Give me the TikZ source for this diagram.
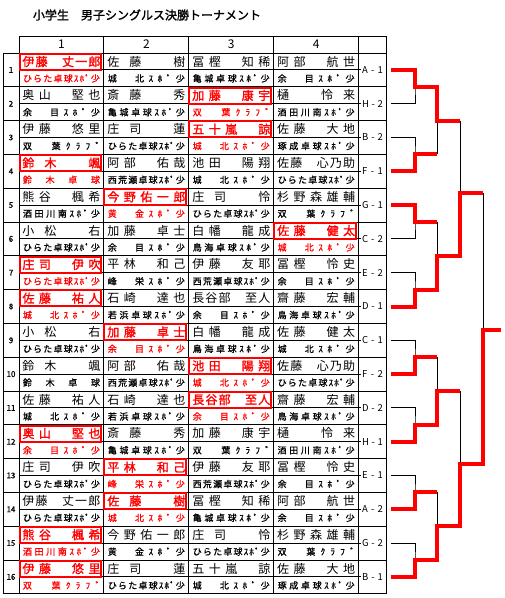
\documentclass[tikz,border=0pt]{standalone}
\usepackage{fontspec}
\usepackage{xcolor}
\newfontfamily\jp{Noto Sans CJK JP}
\newfontfamily\jpb[FakeBold=1.6]{Noto Sans CJK JP}
\newfontfamily\jpm[FakeBold=0.9]{Noto Sans CJK JP}
\definecolor{winRed}{RGB}{255,0,0}

% spread the letters of a text over a fixed width
\def\spreadA#1{\ifx#1\relax\else#1\expandafter\spreadB\fi}
\def\spreadB#1{\ifx#1\relax\else\hfill#1\expandafter\spreadB\fi}
\newcommand\spreadbox[2]{\hbox to #1{\expandafter\spreadA#2\relax}}

% one block row: #1 row, #2 winning column, #3 label, #4 players name/club
\newcommand\prow[4]{%
  \pgfmathsetmacro\rtop{53+33.8*(#1-1)}
  \node[rownum] (rn#1) at (11,\rtop+16.9) {#1};
  \node[blocklab] (lab#1) at (372.5,\rtop+16.9) {\spreadbox{21pt}{#3}};
  \foreach \nm/\cl [count=\col] in {#4} {
    \pgfmathsetmacro\cx{19+84.9*(\col-1)}
    \ifnum\col=#2
      \draw[winbox] (\cx+0.5,\rtop+0.7) rectangle (\cx+82,\rtop+16.7);
      \node[namecell, text=winRed] (nm#1-\col) at (\cx+42.45,\rtop+8.6) {\jpb\spreadbox{78pt}{\nm}};
      \node[clubcell, text=winRed] (cl#1-\col) at (\cx+42.45,\rtop+25.4) {\spreadbox{77pt}{\cl}};
    \else
      \node[namecell] (nm#1-\col) at (\cx+42.45,\rtop+8.6) {\spreadbox{78pt}{\nm}};
      \node[clubcell] (cl#1-\col) at (\cx+42.45,\rtop+25.4) {\spreadbox{77pt}{\cl}};
    \fi
  }
}

\begin{document}
\begin{tikzpicture}[
    x=1pt, y=-1pt,
    every node/.style={inner sep=0pt, outer sep=0pt},
    title/.style={font=\jpb\fontsize{12}{14}\selectfont, anchor=west},
    colhead/.style={font=\jp\fontsize{12}{14}\selectfont},
    rownum/.style={font=\jpm\fontsize{8}{10}\selectfont},
    blocklab/.style={font=\jp\fontsize{9.5}{11}\selectfont},
    namecell/.style={font=\jp\fontsize{12}{14}\selectfont},
    clubcell/.style={font=\jpm\fontsize{9}{11}\selectfont},
    rule/.style={draw=black, line width=1pt},
    winbox/.style={draw=winRed, line width=2pt},
    tree/.style={draw=black, line width=1pt},
    winpath/.style={draw=winRed, line width=4pt}
  ]
    \fill[white] (0,0) rectangle (505,598);

    \node[title] (ttl) at (33,15) {小学生　男子シングルス決勝トーナメント};

    % table grid
    \draw[rule] (19,36) -- (386.7,36);
    \foreach \k in {0,...,16} {
      \draw[rule] (3,{53+33.8*\k}) -- (386.7,{53+33.8*\k});
    }
    \foreach \k in {0,...,15} {
      \draw[rule] (19,{69.9+33.8*\k}) -- (360.5,{69.9+33.8*\k});
    }
    \draw[rule] (3,53) -- (3,593.8);
    \foreach \x in {19,103.9,188.8,273.8,358.7,386.7} {
      \draw[rule] (\x,36) -- (\x,593.8);
    }

    \foreach \col in {1,...,4} {
      \node[colhead] (hd\col) at ({19+84.9*(\col-1)+42.45},44.5) {\col};
    }

    % blocks
    \prow{1}{1}{A-1}{伊藤　丈一郎/ひらた卓球ｽﾎﾟ少, 佐藤　樹/城　北ｽﾎﾟ少, 冨樫　知稀/亀城卓球ｽﾎﾟ少, 阿部　航世/余　目ｽﾎﾟ少}
    \prow{2}{3}{H-2}{奥山　堅也/余　目ｽﾎﾟ少, 斎藤　秀/亀城卓球ｽﾎﾟ少, 加藤　康宇/双　葉ｸﾗﾌﾞ, 樋　怜来/酒田川南ｽﾎﾟ少}
    \prow{3}{3}{B-2}{伊藤　悠里/双　葉ｸﾗﾌﾞ, 庄司　蓮/ひらた卓球ｽﾎﾟ少, 五十嵐　諒/城　北ｽﾎﾟ少, 佐藤　大地/琢成卓球ｽﾎﾟ少}
    \prow{4}{1}{F-1}{鈴木　颯/鈴木卓球, 阿部　佑哉/西荒瀬卓球ｽﾎﾟ少, 池田　陽翔/城　北ｽﾎﾟ少, 佐藤　心乃助/ひらた卓球ｽﾎﾟ少}
    \prow{5}{2}{G-1}{熊谷　楓希/酒田川南ｽﾎﾟ少, 今野佑一郎/黄　金ｽﾎﾟ少, 庄司　怜/ひらた卓球ｽﾎﾟ少, 杉野森雄輔/双　葉ｸﾗﾌﾞ}
    \prow{6}{4}{C-2}{小松　右/ひらた卓球ｽﾎﾟ少, 加藤　卓士/余　目ｽﾎﾟ少, 白幡　龍成/鳥海卓球ｽﾎﾟ少, 佐藤　健太/城　北ｽﾎﾟ少}
    \prow{7}{1}{E-2}{庄司　伊吹/ひらた卓球ｽﾎﾟ少, 平林　和己/峰　栄ｽﾎﾟ少, 伊藤　友耶/西荒瀬卓球ｽﾎﾟ少, 冨樫　怜史/余　目ｽﾎﾟ少}
    \prow{8}{1}{D-1}{佐藤　祐人/城　北ｽﾎﾟ少, 石崎　達也/若浜卓球ｽﾎﾟ少, 長谷部　至人/余　目ｽﾎﾟ少, 齋藤　宏輔/鳥海卓球ｽﾎﾟ少}
    \prow{9}{2}{C-1}{小松　右/ひらた卓球ｽﾎﾟ少, 加藤　卓士/余　目ｽﾎﾟ少, 白幡　龍成/鳥海卓球ｽﾎﾟ少, 佐藤　健太/城　北ｽﾎﾟ少}
    \prow{10}{3}{F-2}{鈴木　颯/鈴木卓球, 阿部　佑哉/西荒瀬卓球ｽﾎﾟ少, 池田　陽翔/城　北ｽﾎﾟ少, 佐藤　心乃助/ひらた卓球ｽﾎﾟ少}
    \prow{11}{3}{D-2}{佐藤　祐人/城　北ｽﾎﾟ少, 石崎　達也/若浜卓球ｽﾎﾟ少, 長谷部　至人/余　目ｽﾎﾟ少, 齋藤　宏輔/鳥海卓球ｽﾎﾟ少}
    \prow{12}{1}{H-1}{奥山　堅也/余　目ｽﾎﾟ少, 斎藤　秀/亀城卓球ｽﾎﾟ少, 加藤　康宇/双　葉ｸﾗﾌﾞ, 樋　怜来/酒田川南ｽﾎﾟ少}
    \prow{13}{2}{E-1}{庄司　伊吹/ひらた卓球ｽﾎﾟ少, 平林　和己/峰　栄ｽﾎﾟ少, 伊藤　友耶/西荒瀬卓球ｽﾎﾟ少, 冨樫　怜史/余　目ｽﾎﾟ少}
    \prow{14}{2}{A-2}{伊藤　丈一郎/ひらた卓球ｽﾎﾟ少, 佐藤　樹/城　北ｽﾎﾟ少, 冨樫　知稀/亀城卓球ｽﾎﾟ少, 阿部　航世/余　目ｽﾎﾟ少}
    \prow{15}{1}{G-2}{熊谷　楓希/酒田川南ｽﾎﾟ少, 今野佑一郎/黄　金ｽﾎﾟ少, 庄司　怜/ひらた卓球ｽﾎﾟ少, 杉野森雄輔/双　葉ｸﾗﾌﾞ}
    \prow{16}{1}{B-1}{伊藤　悠里/双　葉ｸﾗﾌﾞ, 庄司　蓮/ひらた卓球ｽﾎﾟ少, 五十嵐　諒/城　北ｽﾎﾟ少, 佐藤　大地/琢成卓球ｽﾎﾟ少}

    % bracket points
    \foreach \r in {1,...,16} {
      \coordinate (s\r) at (391,{53+33.8*(\r-1)+16.9});
    }
    \foreach \i in {1,...,8} {
      \coordinate (m\i) at (415,{53+33.8*(2*\i-1)});
      \coordinate (q\i) at (437,{53+33.8*(2*\i-1)});
    }
    \foreach \k in {1,...,4} {
      \coordinate (n\k) at (437,{53+33.8*(4*\k-2)});
      \coordinate (p\k) at (460,{53+33.8*(4*\k-2)});
    }
    \coordinate (t1) at (460,193);
    \coordinate (u1) at (483,193);
    \coordinate (t2) at (460,464);
    \coordinate (u2) at (483,464);
    \coordinate (fin) at (483,330);
    \coordinate (win) at (500.5,330);

    % bracket
    \foreach \i [evaluate=\i as \lo using int(2*\i-1), evaluate=\i as \hi using int(2*\i)] in {1,...,8} {
      \draw[tree] (s\lo) -| (m\i) |- (s\hi);
      \draw[tree] (m\i) -- (q\i);
    }
    \foreach \k [evaluate=\k as \lo using int(2*\k-1), evaluate=\k as \hi using int(2*\k)] in {1,...,4} {
      \draw[tree] (q\lo) -- (q\hi);
      \draw[tree] (n\k) -- (p\k);
    }
    \draw[tree] (p1) -- (p2) (t1) -- (u1);
    \draw[tree] (p3) -- (p4) (t2) -- (u2);
    \draw[tree] (u1) -- (u2) (fin) -- (win);

    % winners
    \draw[winpath] (s1) -| (m1) -- (q1) -- (n1) -- (p1);
    \draw[winpath] (s4) -| (m2) -- (q2);
    \draw[winpath] (s5) -| (m3) -- (q3);
    \draw[winpath] (s8) -| (m4) -- (q4) -- (n2) -- (p2) -- (t1) -- (u1);
    \draw[winpath] (s10) -| (m5) -- (q5);
    \draw[winpath] (s12) -| (m6) -- (q6) -- (n3) -- (p3);
    \draw[winpath] (s14) -| (m7) -- (q7);
    \draw[winpath] (s16) -| (m8) -- (q8) -- (n4) -- (p4) -- (t2) -- (u2) -- (fin) -- (win);
  \end{tikzpicture}
\end{document}
